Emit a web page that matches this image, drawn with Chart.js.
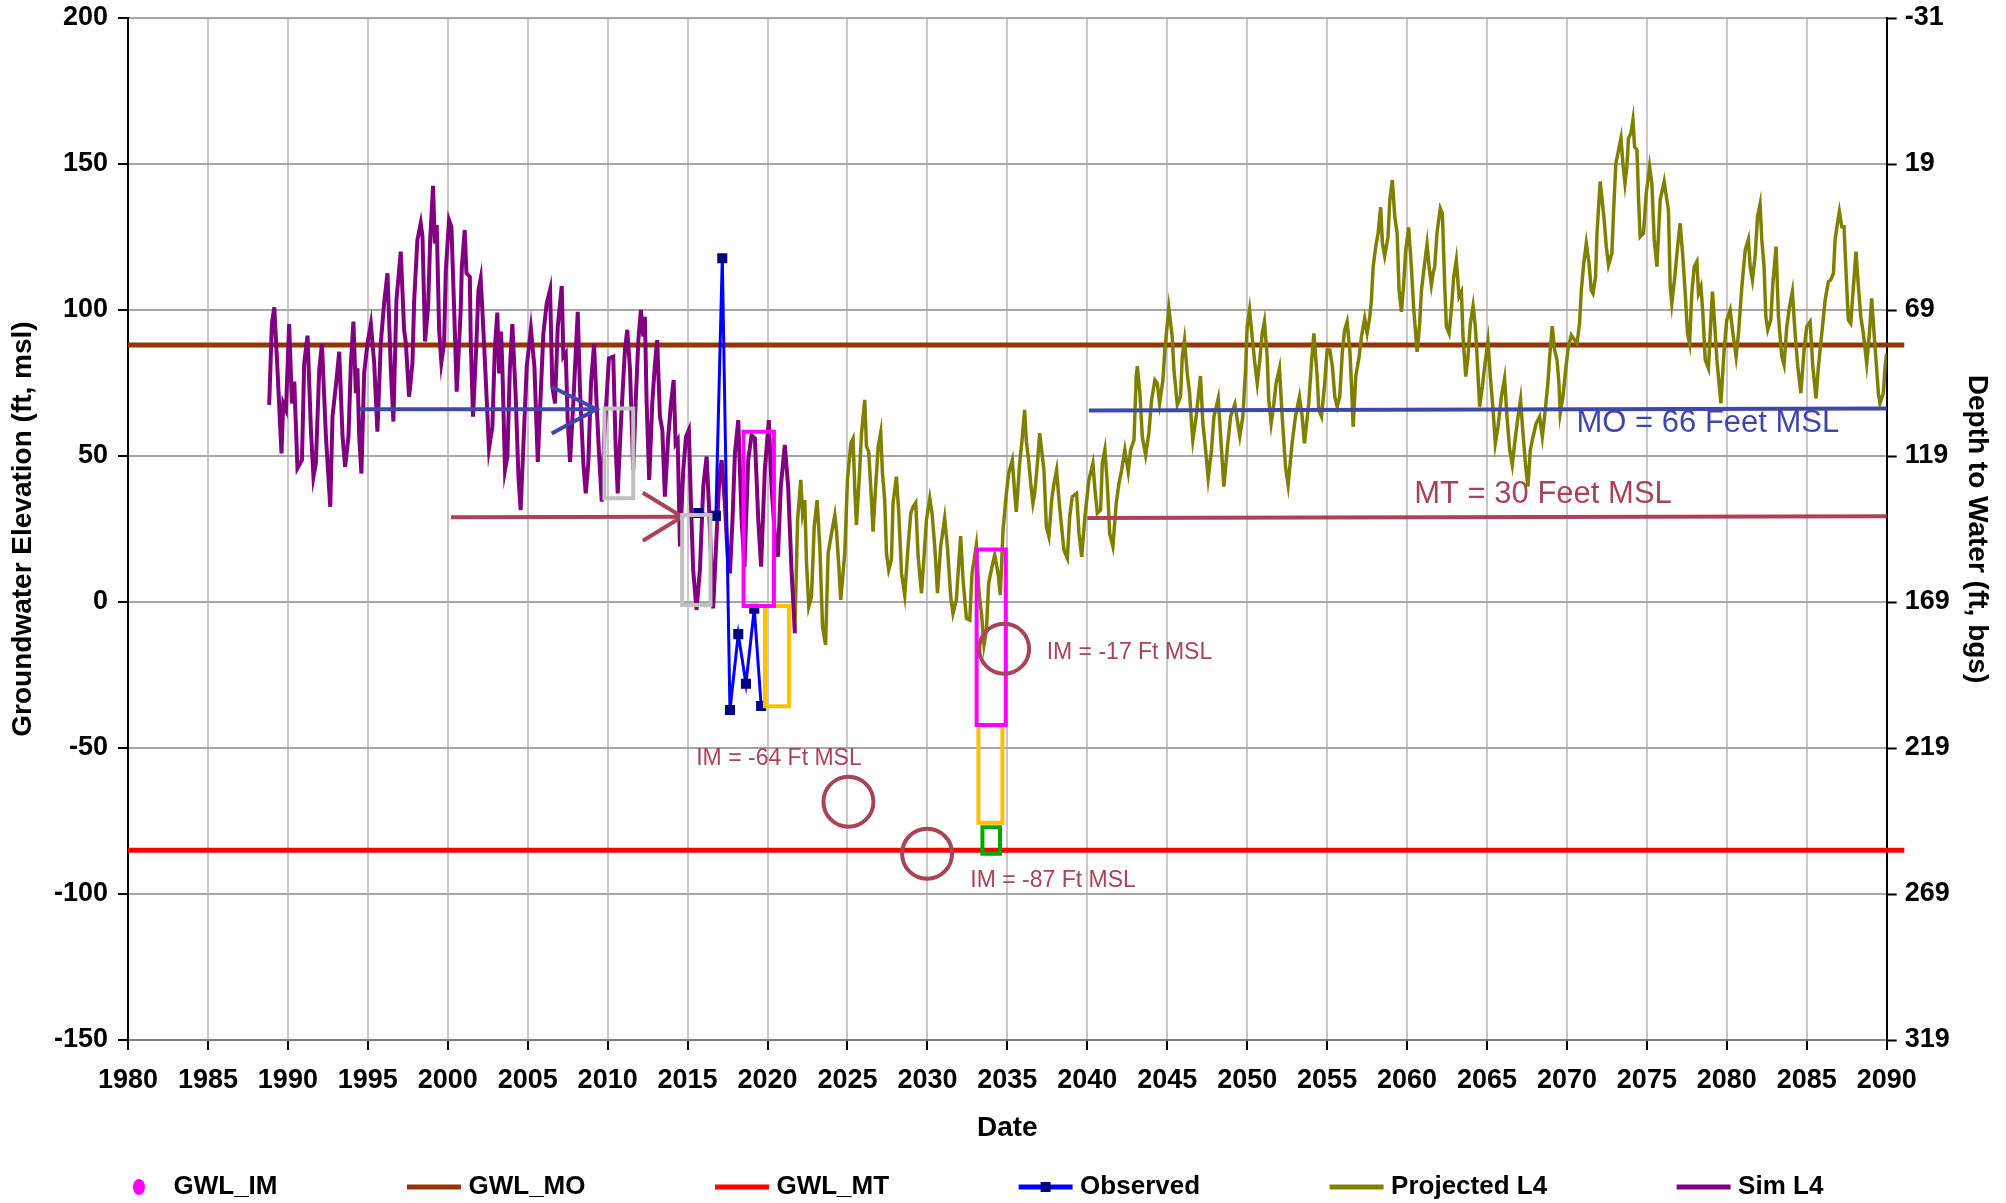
<!DOCTYPE html>
<html>
<head>
<meta charset="utf-8">
<title>Groundwater hydrograph</title>
<script src="https://cdn.jsdelivr.net/npm/chart.js@4.4.1/dist/chart.umd.min.js"></script>
<style>
  html, body { margin: 0; padding: 0; background: #fff; }
  #wrap { position: relative; width: 2006px; height: 1203px; }
</style>
</head>
<body>
<div id="wrap"><canvas id="chart"></canvas></div>
<script>
// ---- data (year, ft msl) ----
const simL4 = [
  [1988.83,67.5],[1989.0,95.4],[1989.15,100.9],[1989.35,79.5],[1989.6,50.9],[1989.71,68],[1989.88,65.8],
  [1990.08,95.2],[1990.25,68],[1990.4,75.5],[1990.6,45.8],[1990.88,48.6],
  [1991.02,81.7],[1991.23,91.2],[1991.44,58.9],[1991.6,42.9],[1991.75,47.5],[1991.96,79.5],
  [1992.13,88.4],[1992.38,56.6],[1992.58,38.9],[1992.65,32.6],[1992.79,63.5],
  [1993.04,76],[1993.21,85.7],[1993.42,56.6],[1993.58,46.3],[1993.79,56.6],[1993.94,81.7],
  [1994.1,96],[1994.25,71.5],[1994.35,80],[1994.46,56.6],[1994.6,44],[1994.77,78.3],[1994.98,88.6],
  [1995.19,95.2],[1995.4,81.7],[1995.6,58.3],[1995.81,88.6],
  [1996.02,102.3],[1996.23,112.6],[1996.44,79.5],[1996.6,61.8],[1996.79,103.4],
  [1997.06,120],[1997.27,93.2],[1997.38,88.6],[1997.58,70.3],[1997.79,81.7],[1997.9,103.4],
  [1998.1,124],[1998.31,129.7],[1998.42,125.1],[1998.58,89.2],[1998.77,101.1],[1998.9,124],
  [1999.08,142.5],[1999.19,122.8],[1999.31,129.1],[1999.46,93.2],[1999.6,82],[1999.77,88.6],[1999.88,113.7],
  [2000.08,130.8],[2000.23,128.5],[2000.4,100],[2000.56,72],[2000.81,100],[2000.88,114.8],
  [2001.06,127.4],[2001.17,112.6],[2001.38,111.4],[2001.44,88.6],[2001.58,63.5],[2001.79,88.6],[2001.92,106.8],
  [2002.06,110.8],[2002.27,88.6],[2002.58,52.6],[2002.79,60],[2002.94,86.3],
  [2003.1,99.1],[2003.21,78.3],[2003.33,92.6],[2003.42,79.5],[2003.58,45.2],[2003.73,49.8],[2003.88,79.5],
  [2004.04,95.2],[2004.25,70.3],[2004.42,42.9],[2004.56,31.5],[2004.77,58.9],[2004.94,80.6],
  [2005.2,93.5],[2005.42,80.6],[2005.63,48],[2005.77,65.8],[2005.98,92],
  [2006.19,102.3],[2006.4,107],[2006.54,73.7],[2006.71,68],[2006.88,94.3],
  [2007.13,108.2],[2007.23,84],[2007.38,85.2],[2007.5,62.3],[2007.65,48],[2007.85,68],
  [2008.13,99.4],[2008.27,72.6],[2008.48,47.5],[2008.63,37.2],[2008.79,47.5],[2008.96,74.9],
  [2009.15,88.4],[2009.31,68],[2009.46,50.9],[2009.63,34.4],[2009.79,56.6],
  [2010.08,83.4],[2010.35,84],[2010.5,53.2],[2010.63,37.2],[2010.83,61.2],
  [2011.08,86.3],[2011.23,93.2],[2011.4,79.5],[2011.6,45.2],[2011.75,68],[2011.92,89.7],
  [2012.08,100],[2012.23,90.9],[2012.33,97.7],[2012.44,68],[2012.6,41.8],[2012.79,68],[2012.96,81.7],
  [2013.1,89.7],[2013.27,63.5],[2013.42,58.9],[2013.58,36.1],[2013.79,56.6],[2013.96,68],
  [2014.13,76],[2014.25,54.3],[2014.38,55.5],[2014.52,19],[2014.73,45.2],[2014.9,56.6],
  [2015.08,58.9],[2015.21,33.8],[2015.35,11],[2015.56,-2.7],[2015.77,11],[2015.98,39.5],
  [2016.19,49.8],[2016.33,33.8],[2016.5,11],[2016.6,-2.2],[2016.81,22.4],[2016.98,41.8],
  [2017.13,48.6],[2017.33,33.8],[2017.5,16.7],[2017.65,9.8],[2017.81,28.1],[2017.96,50.9],
  [2018.17,62.3],[2018.38,28.1],[2018.56,12],[2018.79,48.6],[2019.0,57],[2019.21,56],
  [2019.42,28.1],[2019.6,12.1],[2019.83,45.2],[2020.08,62.3],[2020.25,39.5],[2020.46,22.4],
  [2020.65,15.5],[2020.83,39.5],[2021.08,53.8],[2021.29,39.5],[2021.5,11],[2021.71,-10.7]
];

const projectedL4 = [
  [2021.71,-9.6],[2021.88,28.1],[2022.08,41.8],[2022.19,30.4],[2022.33,34.9],[2022.44,13.2],[2022.58,-1.6],
  [2022.75,1.8],[2022.92,25.8],[2023.1,34.9],[2023.27,19],[2023.44,-8.4],[2023.63,-14.7],[2023.79,16.7],
  [2024.04,24.7],[2024.21,29.8],[2024.31,24.7],[2024.46,12.1],[2024.58,0.7],[2024.83,16.7],
  [2025.0,41.8],[2025.21,54.3],[2025.35,56],[2025.46,38.4],[2025.56,26.4],[2025.73,41.8],[2025.88,57.8],
  [2026.08,69.2],[2026.19,53.2],[2026.33,51.5],[2026.5,34.9],[2026.6,24.1],[2026.75,38.4],[2026.92,53.2],
  [2027.08,58.1],[2027.19,44.1],[2027.33,34.9],[2027.44,16.7],[2027.58,11],[2027.75,14.4],[2027.85,33.8],
  [2028.06,42.9],[2028.21,30.4],[2028.38,9.8],[2028.58,2.4],[2028.79,19],[2028.96,30.4],
  [2029.1,32.6],[2029.27,34],[2029.42,15.5],[2029.63,3],[2029.79,15.5],[2029.94,28.1],
  [2030.15,35.5],[2030.29,30.4],[2030.46,19],[2030.63,3],[2030.83,19],
  [2031.08,28.7],[2031.25,19],[2031.46,1.8],[2031.6,-3.9],[2031.81,0.7],[2031.96,13.2],
  [2032.08,22.6],[2032.23,7.5],[2032.44,-5.6],[2032.65,-6.2],[2032.79,9.8],
  [2033.06,19.5],[2033.23,3],[2033.38,-3.9],[2033.54,-14.7],[2033.69,-9.6],[2033.83,6.4],
  [2034.04,12.1],[2034.21,16.1],[2034.42,9.8],[2034.56,2.4],[2034.73,24.7],[2034.94,37.2],
  [2035.08,44.1],[2035.31,48.6],[2035.46,37.2],[2035.56,30.9],[2035.77,47.5],[2035.92,55.5],
  [2036.08,65.8],[2036.19,54.9],[2036.33,48.6],[2036.46,40.6],[2036.6,33.8],[2036.71,37.2],[2036.88,47.5],
  [2037.02,57.8],[2037.29,45.2],[2037.44,25.8],[2037.6,22.4],[2037.77,34.9],[2037.92,40.6],
  [2038.08,45.2],[2038.23,34.9],[2038.33,29.2],[2038.54,17.8],[2038.75,15],[2038.9,29.2],
  [2039.06,36.1],[2039.33,37.2],[2039.48,23.5],[2039.65,15.5],[2039.85,29.2],
  [2040.1,41.8],[2040.35,47.5],[2040.48,38.4],[2040.63,30.4],[2040.83,31.5],[2040.94,47.5],
  [2041.1,52.1],[2041.25,40.6],[2041.4,23.5],[2041.6,19],[2041.81,33.8],[2041.98,40.6],
  [2042.15,45.2],[2042.35,52.1],[2042.56,44.6],[2042.71,52.1],[2042.92,55.5],
  [2043.06,77.2],[2043.13,80.8],[2043.29,71.5],[2043.44,56.6],[2043.65,50.3],[2043.85,57.8],
  [2044.02,69.2],[2044.23,76],[2044.38,74.9],[2044.52,68],[2044.73,76],[2044.85,86.3],
  [2045.1,100.6],[2045.31,90.9],[2045.42,79.5],[2045.63,67.5],[2045.83,70.3],[2045.94,84],
  [2046.08,89.7],[2046.25,78.3],[2046.4,71.5],[2046.52,61.2],[2046.6,55.5],[2046.81,63.5],
  [2047.08,77.4],[2047.23,61.2],[2047.4,52.1],[2047.56,42.4],[2047.77,52.1],[2047.92,63.5],
  [2048.19,69.7],[2048.33,57.8],[2048.54,39.5],[2048.75,52.1],[2048.96,63.5],
  [2049.23,67.8],[2049.38,62.3],[2049.54,56.8],[2049.73,63.5],[2049.9,79.5],
  [2050.0,94.3],[2050.15,100],[2050.31,90.9],[2050.48,81.7],[2050.63,74.9],[2050.77,81.7],[2050.94,92],
  [2051.08,96],[2051.25,84],[2051.35,69.2],[2051.5,61.2],[2051.67,68],[2051.81,74.9],
  [2052.02,80],[2052.19,63.5],[2052.4,46.3],[2052.56,40.1],[2052.81,54.3],
  [2053.02,63.5],[2053.27,70.3],[2053.44,63.5],[2053.58,54.3],[2053.85,68],
  [2054.02,81.7],[2054.17,92],[2054.38,77.2],[2054.48,65.8],[2054.65,63.5],[2054.85,74.9],
  [2055.0,86.3],[2055.17,86.3],[2055.33,80.6],[2055.48,70.3],[2055.63,66.9],[2055.79,70.3],[2055.96,86.3],
  [2056.1,93.2],[2056.25,96],[2056.42,86.3],[2056.52,74.9],[2056.63,60],[2056.79,77.2],
  [2057.0,84],[2057.15,90.9],[2057.35,97.1],[2057.5,92],[2057.67,97.7],[2057.77,103.4],[2057.88,114.8],
  [2058.04,121.7],[2058.19,126.3],[2058.35,135.2],[2058.46,122.8],[2058.6,118.5],[2058.81,125.1],[2058.92,137.7],
  [2059.08,144.5],[2059.23,132],[2059.38,126.3],[2059.5,106.8],[2059.65,99.4],[2059.79,109.1],[2059.92,120.5],
  [2060.1,128.3],[2060.27,114.8],[2060.42,100],[2060.63,85.7],[2060.79,95.4],[2060.9,106.8],
  [2061.1,116],[2061.25,122.6],[2061.38,114.8],[2061.52,108.6],[2061.63,112.6],[2061.73,114.8],[2061.88,126.8],
  [2062.08,134.8],[2062.21,133.1],[2062.35,109.1],[2062.46,94.3],[2062.63,92],[2062.77,100],[2062.92,111.4],
  [2063.08,117.1],[2063.25,104.6],[2063.4,106.3],[2063.5,90.9],[2063.67,77.2],[2063.81,84],[2063.96,95.4],
  [2064.13,101.4],[2064.27,94.3],[2064.38,84],[2064.54,66.9],[2064.71,73.7],[2064.85,80.6],
  [2065.06,89.2],[2065.21,77.2],[2065.38,65.8],[2065.52,54.3],[2065.69,60],[2065.9,70.3],
  [2066.1,76.6],[2066.25,63.5],[2066.42,52.1],[2066.58,47],[2066.73,54.3],[2066.94,63.5],
  [2067.1,69.4],[2067.25,57.8],[2067.42,46.3],[2067.56,39.5],[2067.71,52.1],[2067.88,56.6],
  [2068.08,61.2],[2068.29,63.5],[2068.46,56.6],[2068.6,63.5],[2068.81,74.9],[2068.92,84],
  [2069.08,94.5],[2069.23,86.3],[2069.38,82.9],[2069.5,74.9],[2069.58,64.6],[2069.75,70.3],[2069.92,79.5],
  [2070.06,86.3],[2070.27,91.4],[2070.48,89.7],[2070.63,88.6],[2070.79,95.4],[2070.9,106.8],
  [2071.04,115.4],[2071.21,122.8],[2071.38,116],[2071.52,106.8],[2071.63,105.7],[2071.79,111.4],[2071.88,126.3],
  [2072.08,144],[2072.33,130.8],[2072.46,121.7],[2072.6,115.4],[2072.81,119.4],[2072.92,134.2],
  [2073.06,150.2],[2073.23,154.8],[2073.38,158.8],[2073.5,150.2],[2073.63,143.4],[2073.75,149.1],[2073.85,158.8],
  [2074.0,160.5],[2074.13,165.1],[2074.23,155.9],[2074.38,154.8],[2074.48,137.7],[2074.58,125.1],[2074.79,126.3],[2074.96,140],
  [2075.17,149.1],[2075.31,143.4],[2075.46,124],[2075.63,114.8],[2075.83,137.7],
  [2076.08,144],[2076.25,137.7],[2076.35,134.2],[2076.46,108],[2076.56,102.3],[2076.77,112.6],[2076.92,121.7],
  [2077.08,129.7],[2077.25,118.3],[2077.4,105.7],[2077.54,92],[2077.67,88.6],[2077.81,105.7],[2077.96,114.8],
  [2078.13,116.6],[2078.23,105.7],[2078.38,108],[2078.5,98.9],[2078.65,82.9],[2078.85,80],[2078.96,92],
  [2079.1,106.3],[2079.21,97.7],[2079.38,82.9],[2079.63,68],[2079.83,86.3],
  [2080.0,96.6],[2080.21,100],[2080.38,92],[2080.58,84],[2080.73,92],[2080.94,108],
  [2081.15,120.5],[2081.35,124.2],[2081.46,114.8],[2081.6,110.3],[2081.77,118.3],[2081.92,132],
  [2082.08,136.3],[2082.19,124],[2082.33,114.8],[2082.44,97.7],[2082.56,93.2],[2082.75,96.6],[2082.88,109.1],
  [2083.08,121.7],[2083.23,97.7],[2083.44,84],[2083.58,81.2],[2083.75,94.3],[2083.92,101.1],
  [2084.1,106.3],[2084.27,92],[2084.44,80.6],[2084.63,71.5],[2084.83,86.3],
  [2085.0,94.3],[2085.21,96],[2085.38,80.6],[2085.58,69.7],[2085.73,80.6],[2085.94,92],
  [2086.15,103.4],[2086.35,109.7],[2086.5,110.3],[2086.67,112.6],[2086.77,124],[2086.92,129.7],
  [2087.04,133.7],[2087.19,128.5],[2087.33,128.5],[2087.46,112.6],[2087.6,96.6],[2087.75,95.4],[2087.92,108],
  [2088.08,120],[2088.23,108],[2088.38,97.7],[2088.54,92],[2088.75,81.7],[2088.92,92],
  [2089.06,104],[2089.21,92],[2089.33,82.9],[2089.48,71.5],[2089.58,68],[2089.79,71.5],[2089.9,80.6],[2090.0,85]
];

const observed = [
  [2015.67,30.5],[2016.77,29.5],[2017.17,117.7],[2017.65,-37],
  [2018.17,-11],[2018.65,-28],[2019.17,-2.3],[2019.6,-35.6]
];

// thresholds (ft msl) and the span they are drawn over
const gwlMO = 88;
const gwlMT = -85;
const thresholdSpan = [1980, 2091.1];

// annotation shapes, data units
const moArrow = [[1994.5, 66], [2009.3, 66]];
const moArrowHead = [[2006.5, 73.7], [2009.3, 66], [2006.5, 57.7]];
const mtArrow = [[2000.2, 29], [2014.66, 29.2]];
const mtArrowHead = [[2012.2, 37.4], [2014.66, 29.2], [2012.2, 21]];
const moLine = [[2040.1, 65.6], [2090, 66.3]];
const mtLine = [[2040.0, 28.8], [2090, 29.4]];
// boxes: [startYear, endYear, low, high]
const grayBoxes = [[2009.8, 2011.6, 35.5, 66.3], [2014.66, 2016.43, -1, 29.8]];
const magentaBoxes = [[2018.5, 2020.4, -1.4, 58.3], [2033.08, 2034.9, -42.1, 18]];
const orangeBoxes = [[2019.84, 2021.34, -35.7, -1.4], [2033.19, 2034.69, -75.6, -42.1]];
const greenBoxes = [[2033.44, 2034.54, -86.2, -77.1]];
const imCircles = [[2034.8, -16], [2025.06, -68.4], [2029.98, -86.2]];

const notes = [
  { text: "IM = -17 Ft MSL", at: [2037.46, -17.5], kind: "im" },
  { text: "IM = -64 Ft MSL", at: [2015.54, -53.5], kind: "im" },
  { text: "IM = -87 Ft MSL", at: [2032.68, -95.5], kind: "im" },
  { text: "MO = 66 Feet MSL", at: [2070.6, 61.2], kind: "mo" },
  { text: "MT = 30 Feet MSL", at: [2060.45, 37], kind: "mt" }
];

const xTicks = { min: 1980, max: 2090, step: 5 };
const yTicks = { min: -150, max: 200, step: 50 };
const depthTicks = { min: -31, max: 319, step: 50 };

// ---- styling ----
const FONT = '"Liberation Sans", Arial, Helvetica, sans-serif';
const noteRed = "#a8435a";
const noteBlue = "#4047a8";
const noteStyle = {
  im: { size: 23, color: noteRed },
  mo: { size: 31, color: noteBlue },
  mt: { size: 31, color: noteRed }
};

const legendItems = [
  { label: "GWL_IM", kind: "dot", color: "#ff00ff" },
  { label: "GWL_MO", kind: "line", color: "#993300" },
  { label: "GWL_MT", kind: "line", color: "#ff0000" },
  { label: "Observed", kind: "line", color: "#0000ff", marker: "#000080" },
  { label: "Projected L4", kind: "line", color: "#808000" },
  { label: "Sim L4", kind: "line", color: "#800080" }
];

Chart.defaults.font.family = FONT;
Chart.defaults.color = "#000";

const toXY = (pairs) => pairs.map(([x, y]) => ({ x, y }));
const boxPath = ([x0, x1, lo, hi]) =>
  toXY([[x0, lo], [x1, lo], [x1, hi], [x0, hi], [x0, lo], [x1, lo]]);

function shape(label, pairs, color, width, order) {
  return {
    label, data: toXY(pairs), borderColor: color, borderWidth: width,
    pointRadius: 0, pointHoverRadius: 0, fill: false, tension: 0,
    borderJoinStyle: "miter", order, clip: false
  };
}

function boxSets(label, boxes, color) {
  return boxes.map((b, i) => ({
    label: label + " " + (i + 1), data: boxPath(b), borderColor: color, borderWidth: 4,
    pointRadius: 0, pointHoverRadius: 0, fill: false, tension: 0,
    borderJoinStyle: "miter", order: 1
  }));
}

const datasets = [
  shape("GWL_MT", [[thresholdSpan[0], gwlMT], [thresholdSpan[1], gwlMT]], "#ff0000", 5, 9),
  shape("GWL_MO", [[thresholdSpan[0], gwlMO], [thresholdSpan[1], gwlMO]], "#993300", 5, 8),
  {
    label: "Projected L4", data: toXY(projectedL4), borderColor: "#808000", borderWidth: 3.5,
    pointRadius: 0, pointHoverRadius: 0, tension: 0, order: 6
  },
  {
    label: "Sim L4", data: toXY(simL4), borderColor: "#800080", borderWidth: 4,
    pointRadius: 0, pointHoverRadius: 0, tension: 0, order: 5
  },
  {
    label: "Observed", data: toXY(observed), borderColor: "#0000ff", borderWidth: 3,
    pointStyle: "rect", pointRadius: 5, pointHoverRadius: 5,
    pointBackgroundColor: "#000080", pointBorderColor: "#000080", tension: 0, order: 4
  },
  shape("MO arrow", moArrow, noteBlue, 4, 2),
  shape("MO arrow head", moArrowHead, noteBlue, 4, 2),
  shape("MO", moLine, noteBlue, 4, 2),
  shape("MT arrow", mtArrow, noteRed, 4, 2),
  shape("MT arrow head", mtArrowHead, noteRed, 4, 2),
  shape("MT", mtLine, noteRed, 4, 2),
  ...boxSets("gray box", grayBoxes, "#c0c0c0"),
  ...boxSets("IM box", magentaBoxes, "#ff00ff"),
  ...boxSets("IM box low", orangeBoxes, "#ffc000"),
  ...boxSets("IM box floor", greenBoxes, "#00a800"),
  {
    label: "IM circles", data: toXY(imCircles), showLine: false,
    pointStyle: "circle", pointRadius: 25, pointHoverRadius: 25, pointBorderWidth: 4,
    pointBackgroundColor: "rgba(0,0,0,0)", pointBorderColor: noteRed, order: 0, clip: false
  }
];

const noteLabels = {
  id: "noteLabels",
  afterDatasetsDraw(chart) {
    const { ctx, scales: { x, y } } = chart;
    ctx.save();
    ctx.textAlign = "left";
    ctx.textBaseline = "middle";
    notes.forEach((n) => {
      const st = noteStyle[n.kind];
      ctx.font = st.size + "px " + FONT;
      ctx.fillStyle = st.color;
      ctx.fillText(n.text, x.getPixelForValue(n.at[0]), y.getPixelForValue(n.at[1]));
    });
    ctx.restore();
  }
};

const bottomLegend = {
  id: "bottomLegend",
  afterDraw(chart) {
    const ctx = chart.ctx;
    const y = 1187;
    let left = 112;
    ctx.save();
    ctx.font = "bold 26px " + FONT;
    ctx.textBaseline = "middle";
    ctx.textAlign = "left";
    legendItems.forEach((item) => {
      if (item.kind === "dot") {
        ctx.fillStyle = item.color;
        ctx.beginPath();
        ctx.ellipse(left + 27, y, 6, 8, 0, 0, Math.PI * 2);
        ctx.fill();
      } else {
        ctx.strokeStyle = item.color;
        ctx.lineWidth = 5;
        ctx.beginPath();
        ctx.moveTo(left, y);
        ctx.lineTo(left + 54, y);
        ctx.stroke();
        if (item.marker) {
          ctx.fillStyle = item.marker;
          ctx.fillRect(left + 22, y - 5, 10, 10);
        }
      }
      ctx.fillStyle = "#000";
      ctx.fillText(item.label, left + 61.5, y);
      left += 61.5 + ctx.measureText(item.label).width + 129.5;
    });
    ctx.restore();
  }
};

const tickFont = { size: 27, weight: "bold", family: FONT };
const titleFont = { size: 28, weight: "bold", family: FONT };

// fixed widths for the value axes so the plot area lines up with the original
const flatVertical = (width) => (s) => {
  s.width = width;
  s.paddingTop = 0;
  s.paddingBottom = 0;
};

new Chart(document.getElementById("chart"), {
  type: "line",
  data: { datasets },
  options: {
    responsive: true,
    maintainAspectRatio: false,
    devicePixelRatio: 1,
    animation: false,
    layout: { autoPadding: false, padding: { left: 2, right: 10, top: 18, bottom: 53 } },
    plugins: { legend: { display: false }, tooltip: { enabled: false } },
    scales: {
      x: {
        type: "linear", min: xTicks.min, max: xTicks.max,
        ticks: {
          stepSize: xTicks.step, autoSkip: false, maxRotation: 0, padding: 14,
          font: tickFont, color: "#000", callback: (v) => String(v)
        },
        grid: { color: "#c8c8c8", lineWidth: 2, tickLength: 10, tickColor: "#000", tickWidth: 2 },
        border: { color: "#808080", width: 2 },
        title: { display: true, text: "Date", font: titleFont, color: "#000", padding: { top: 4, bottom: 5 } },
        afterFit: (s) => { s.height = 110; }
      },
      y: {
        position: "left", min: yTicks.min, max: yTicks.max,
        ticks: { stepSize: yTicks.step, padding: 10, font: tickFont, color: "#000" },
        grid: { color: "#a6a6a6", lineWidth: 2, tickLength: 10, tickColor: "#000", tickWidth: 2 },
        border: { color: "#000", width: 2 },
        title: {
          display: true, text: "Groundwater Elevation (ft, msl)", font: titleFont, color: "#000",
          padding: { top: 4, bottom: 0 }
        },
        afterFit: flatVertical(126)
      },
      depth: {
        position: "right", min: depthTicks.min, max: depthTicks.max, reverse: true,
        ticks: { stepSize: depthTicks.step, padding: 8, font: tickFont, color: "#000" },
        grid: { drawOnChartArea: false, tickLength: 10, tickColor: "#000", tickWidth: 2 },
        border: { color: "#000", width: 2 },
        title: {
          display: true, text: "Depth to Water (ft, bgs)", font: titleFont, color: "#000",
          padding: { top: 2, bottom: 0 }
        },
        afterFit: flatVertical(2006 - 10 - 1886.7)
      }
    }
  },
  plugins: [noteLabels, bottomLegend]
});
</script>
</body>
</html>
